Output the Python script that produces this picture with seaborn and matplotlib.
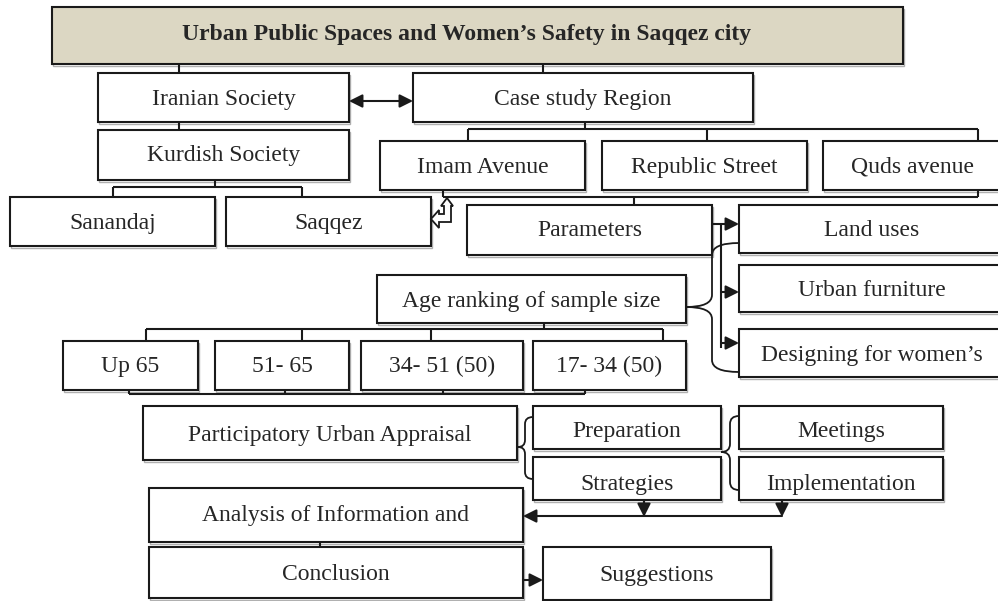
import matplotlib
matplotlib.use("Agg")
import matplotlib.pyplot as plt
from matplotlib.patches import Rectangle, Polygon, PathPatch
from matplotlib.path import Path
import seaborn as sns

# ---------------- content (text of the flowchart) ----------------
title_text = "Urban Public Spaces and Women\u2019s Safety in Saqqez city"
society_labels = ["Iranian Society", "Kurdish Society"]
city_labels = ["Sanandaj", "Saqqez"]
region_label = "Case study Region"
street_labels = ["Imam Avenue", "Republic Street", "Quds avenue"]
parameter_label = "Parameters"
parameter_items = ["Land uses", "Urban furniture", "Designing for women\u2019s"]
age_label = "Age ranking of sample size"
age_groups = ["Up 65", "51- 65", "34- 51 (50)", "17- 34 (50)"]
pua_label = "Participatory Urban Appraisal"
pua_steps = ["Preparation", "Strategies"]
pua_actions = ["Meetings", "Implementation"]
analysis_label = "Analysis of Information and"
conclusion_label = "Conclusion"
suggestion_label = "Suggestions"

# ---------------- layout (pixel frame of the 998x601 canvas) ----------------
layout = {
    title_text: (52, 7, 903, 64),
    society_labels[0]: (98, 73, 349, 122),
    region_label: (413, 73, 753, 122),
    society_labels[1]: (98, 130, 349, 180),
    street_labels[0]: (380, 141, 585, 190),
    street_labels[1]: (602, 141, 807, 190),
    street_labels[2]: (823, 141, 1004, 190),
    city_labels[0]: (10, 197, 215, 246),
    city_labels[1]: (226, 197, 431, 246),
    parameter_label: (467, 205, 712, 255),
    parameter_items[0]: (739, 205, 1004, 253),
    parameter_items[1]: (739, 265, 1004, 312),
    age_label: (377, 275, 686, 323),
    parameter_items[2]: (739, 329, 1004, 377),
    age_groups[0]: (63, 341, 198, 390),
    age_groups[1]: (215, 341, 349, 390),
    age_groups[2]: (361, 341, 523, 390),
    age_groups[3]: (533, 341, 686, 390),
    pua_label: (143, 406, 517, 460),
    pua_steps[0]: (533, 406, 721, 449),
    pua_steps[1]: (533, 457, 721, 500),
    pua_actions[0]: (739, 406, 943, 449),
    pua_actions[1]: (739, 457, 943, 500),
    analysis_label: (149, 488, 523, 542),
    conclusion_label: (149, 547, 523, 598),
    suggestion_label: (543, 547, 771, 600),
}
text_dy = {title_text: -3, pua_steps[0]: 2, pua_steps[1]: 4, pua_actions[0]: 2,
           pua_actions[1]: 4, age_groups[0]: -1, age_groups[1]: -1, age_groups[2]: -1,
           age_groups[3]: -1, analysis_label: -2, society_labels[1]: -2,
           parameter_label: -1}
text_x = {title_text: 467, street_labels[2]: 913, parameter_items[0]: 872,
          parameter_items[1]: 872, parameter_items[2]: 872}

sns.set_theme(style="white")
plt.rcParams["font.family"] = ["Liberation Serif", "DejaVu Serif"]

fig = plt.figure(figsize=(9.98, 6.01), dpi=100)
ax = fig.add_axes([0, 0, 1, 1])
ax.set_xlim(0, 998)
ax.set_ylim(601, 0)
ax.axis("off")

INK = "#1a1a1a"
TXT = "#262626"
LW = 1.5

for label, (x0, y0, x1, y1) in layout.items():
    is_title = label == title_text
    fc = "#DCD7C3" if is_title else "white"
    ax.add_patch(Rectangle((x0 + 1.5, y0 + 1.5), x1 - x0, y1 - y0, fill=False,
                           ec="#b0b0b0", lw=1.0, zorder=1))
    ax.add_patch(Rectangle((x0, y0), x1 - x0, y1 - y0, fc=fc, ec=INK, lw=LW, zorder=2))
    cx = text_x.get(label, (x0 + x1) / 2)
    cy = (y0 + y1) / 2 + 2 + text_dy.get(label, 0)
    ax.text(cx, cy, label, ha="center", va="center", fontsize=17,
            fontweight="bold" if is_title else "normal", color=TXT, zorder=3,
            clip_on=True)

segments = [
    [(179, 64), (179, 73)],
    [(543, 64), (543, 73)],
    [(179, 122), (179, 130)],
    [(215, 180), (215, 187)], [(113, 187), (302, 187)],
    [(113, 187), (113, 197)], [(302, 187), (302, 197)],
    [(585, 122), (585, 129)], [(468, 129), (978, 129)],
    [(468, 129), (468, 141)], [(707, 129), (707, 141)], [(978, 129), (978, 141)],
    [(443, 190), (443, 197)], [(443, 197), (978, 197)], [(978, 190), (978, 197)],
    [(634, 197), (634, 205)],
    [(544, 323), (544, 329)], [(146, 329), (663, 329)],
    [(146, 329), (146, 341)], [(302, 329), (302, 341)],
    [(431, 329), (431, 341)], [(663, 329), (663, 341)],
    [(129, 390), (129, 394)], [(285, 390), (285, 394)],
    [(443, 390), (443, 394)], [(585, 390), (585, 394)], [(129, 394), (585, 394)],
    [(320, 542), (320, 547)],
    [(721, 224), (721, 348)],
    [(644, 500), (644, 506)], [(782, 500), (782, 506)],
]
for seg in segments:
    xs, ys = zip(*seg)
    ax.plot(xs, ys, color=INK, lw=LW, solid_capstyle="butt", zorder=4)

def arrow(p0, p1, style="-|>"):
    ax.annotate("", xy=p1, xytext=p0,
                arrowprops=dict(arrowstyle=style, color=INK, lw=LW,
                                mutation_scale=20, shrinkA=0, shrinkB=0),
                zorder=5)

arrow((349, 101), (413, 101), "<|-|>")
arrow((712, 224), (739, 224))
arrow((721, 292), (739, 292))
arrow((721, 343), (739, 343))
arrow((644, 500), (644, 517))
arrow((782, 500), (782, 517))
arrow((782, 516), (523, 516))
arrow((523, 580), (543, 580))

def brace(xtip, ytip, xv, xend, ytop, ybot, r=9):
    verts = [(xend, ytop), (xv, ytop), (xv, ytop + r),
             (xv, ytip - r), (xv, ytip), (xtip, ytip),
             (xv, ytip), (xv, ytip + r),
             (xv, ybot - r), (xv, ybot), (xend, ybot)]
    codes = [Path.MOVETO, Path.CURVE3, Path.CURVE3,
             Path.LINETO, Path.CURVE3, Path.CURVE3,
             Path.CURVE3, Path.CURVE3,
             Path.LINETO, Path.CURVE3, Path.CURVE3]
    ax.add_patch(PathPatch(Path(verts, codes), fill=False, ec=INK, lw=1.3, zorder=4))

brace(686, 307, 712, 739, 243, 372, r=12)
brace(518, 447, 525, 533, 417, 479, r=7)
brace(721, 452, 730, 739, 416, 490, r=8)

bent = [(447, 198), (453, 206), (451, 206), (451, 222), (439, 222), (439, 228),
        (431, 219), (439, 210), (439, 214), (444, 214), (444, 206), (441, 206)]
ax.add_patch(Polygon(bent, closed=True, fc="white", ec=INK, lw=1.3, zorder=6))

fig.savefig("out.png", dpi=100)
